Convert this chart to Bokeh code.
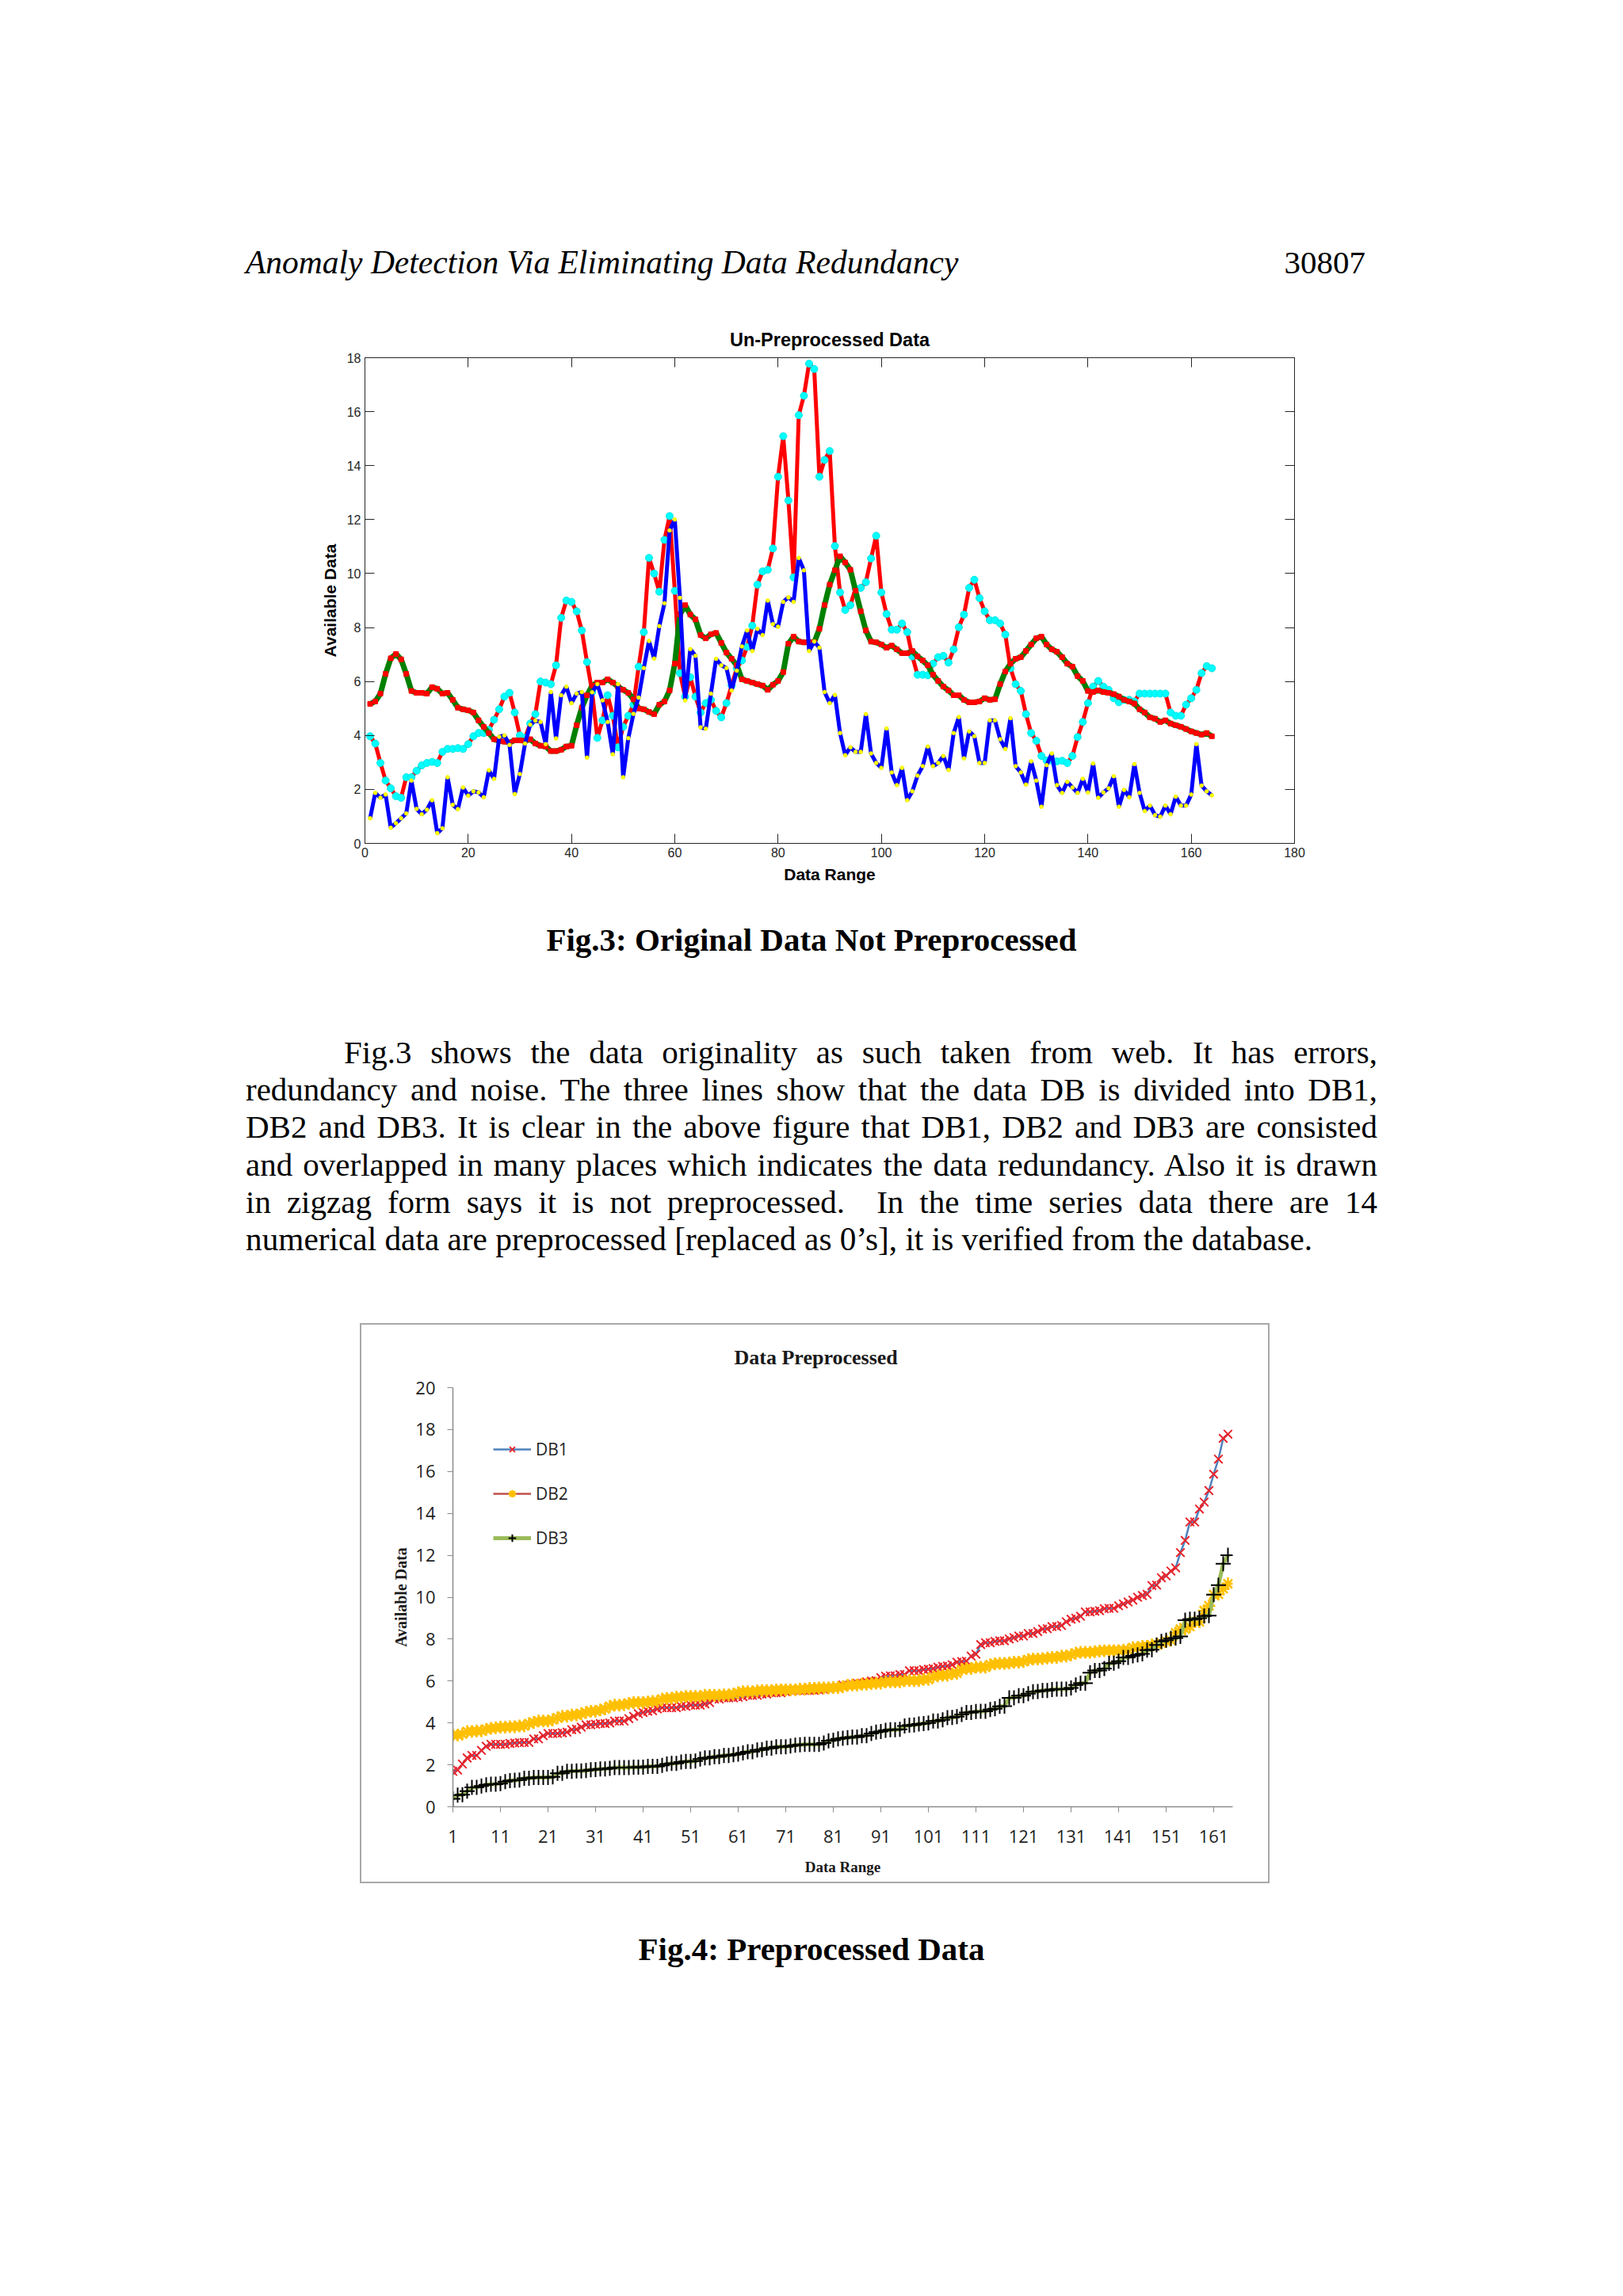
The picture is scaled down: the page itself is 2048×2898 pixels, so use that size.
from bokeh.plotting import figure
from bokeh.models import (LinearAxis, FixedTicker, Div, Spacer, Legend, LegendItem,
                          ColumnDataSource, Title, GridBox)
from bokeh.layouts import column, row
from bokeh.embed import file_html
from bokeh.resources import INLINE

# ---------------- data ----------------
blue_series = [0.93, 1.87, 1.69, 1.81, 0.58, 0.75, 0.93, 1.11, 2.33, 1.28,
               1.08, 1.25, 1.60, 0.38, 0.56, 2.45, 1.43, 1.27, 2.07, 1.77,
               1.93, 1.89, 1.71, 2.71, 2.39, 3.95, 4.00, 3.65, 1.83, 2.57,
               3.70, 4.40, 4.55, 4.50, 3.68, 5.61, 3.89, 5.49, 5.81, 5.20,
               5.55, 5.61, 3.18, 5.60, 5.90, 5.30, 4.50, 3.30, 5.90, 2.45,
               3.90, 4.80, 5.40, 6.50, 7.50, 6.85, 8.05, 8.90, 11.60, 12.00,
               9.10, 5.30, 7.20, 6.95, 4.30, 4.25, 5.55, 6.84, 6.60, 6.50,
               5.67, 6.40, 7.30, 7.89, 7.13, 7.95, 7.72, 9.00, 8.13, 8.03,
               8.95, 9.12, 8.95, 10.58, 10.12, 7.13, 7.48, 7.25, 5.61, 5.20,
               5.50, 4.09, 3.27, 3.56, 3.39, 3.39, 4.79, 3.33, 2.98, 2.80,
               4.26, 2.63, 2.16, 2.80, 1.60, 1.93, 2.51, 2.86, 3.59, 2.86,
               2.98, 3.24, 2.72, 4.09, 4.68, 3.15, 4.15, 3.97, 2.98, 2.98,
               4.56, 4.56, 3.86, 3.50, 4.64, 2.86, 2.63, 2.18, 3.04, 2.33,
               1.36, 2.90, 3.33, 2.16, 1.87, 2.28, 2.07, 1.87, 2.39, 1.89,
               2.96, 1.69, 1.89, 2.04, 2.49, 1.36, 1.98, 1.71, 2.94, 1.87,
               1.20, 1.40, 1.05, 0.99, 1.40, 1.08, 1.73, 1.40, 1.40, 1.81,
               3.68, 2.14, 1.93, 1.78]

red_series = [3.97, 3.70, 2.98, 2.33, 2.04, 1.75, 1.69, 2.45, 2.45, 2.69,
              2.89, 2.98, 3.02, 2.98, 3.39, 3.50, 3.50, 3.53, 3.50, 3.68,
              3.97, 4.09, 4.09, 4.21, 4.58, 4.97, 5.44, 5.58, 4.85, 4.00,
              3.91, 4.44, 4.79, 6.00, 5.96, 5.90, 6.60, 8.36, 9.00, 8.95,
              8.60, 7.89, 6.72, 5.61, 3.91, 4.56, 5.49, 4.73, 3.56, 4.32,
              4.73, 5.14, 6.55, 7.83, 10.58, 10.00, 9.33, 11.25, 12.13, 9.36,
              6.31, 5.44, 6.16, 5.44, 4.85, 5.20, 5.32, 4.91, 4.67, 5.20,
              5.85, 6.49, 6.78, 7.28, 8.07, 9.59, 10.08, 10.14, 10.93, 13.59,
              15.09, 12.71, 9.86, 15.87, 16.59, 17.78, 17.58, 13.59, 14.21, 14.54,
              11.02, 9.30, 8.65, 8.83, 9.45, 9.47, 9.68, 10.56, 11.40, 9.30,
              8.50, 7.92, 7.92, 8.15, 7.83, 6.93, 6.25, 6.25, 6.23, 6.66,
              6.90, 6.95, 6.70, 7.19, 8.01, 8.48, 9.47, 9.77, 9.09, 8.60,
              8.27, 8.27, 8.15, 7.74, 6.49, 5.90, 5.65, 4.79, 4.09, 3.80,
              3.24, 3.07, 3.07, 3.04, 3.06, 2.98, 3.24, 3.94, 4.50, 5.20,
              5.81, 6.02, 5.81, 5.69, 5.38, 5.23, 5.32, 5.32, 5.26, 5.55,
              5.55, 5.55, 5.55, 5.55, 5.55, 4.85, 4.73, 4.73, 5.14, 5.38,
              5.69, 6.31, 6.57, 6.49]

green_series = [5.17, 5.26, 5.55, 6.28, 6.86, 7.02, 6.82, 6.28, 5.65, 5.58,
                5.58, 5.55, 5.79, 5.73, 5.55, 5.58, 5.32, 5.03, 4.97, 4.93,
                4.85, 4.56, 4.32, 4.09, 3.86, 3.80, 3.77, 3.74, 3.82, 3.82,
                3.80, 3.86, 3.70, 3.62, 3.59, 3.42, 3.42, 3.47, 3.59, 3.62,
                4.38, 5.03, 5.49, 5.85, 5.96, 5.96, 6.08, 5.96, 5.81, 5.69,
                5.58, 5.34, 5.00, 4.97, 4.87, 4.79, 5.14, 5.26, 5.67, 6.66,
                8.48, 8.83, 8.48, 8.30, 7.72, 7.60, 7.75, 7.80, 7.43, 7.07,
                6.84, 6.60, 6.08, 6.02, 5.96, 5.90, 5.85, 5.69, 5.88, 6.02,
                6.35, 7.40, 7.66, 7.48, 7.45, 7.45, 7.45, 7.95, 8.83, 9.59,
                10.12, 10.64, 10.41, 10.14, 9.36, 8.60, 7.89, 7.48, 7.45, 7.37,
                7.25, 7.33, 7.19, 7.05, 7.05, 7.13, 6.93, 6.78, 6.60, 6.25,
                6.02, 5.81, 5.67, 5.49, 5.49, 5.32, 5.23, 5.23, 5.26, 5.38,
                5.32, 5.34, 5.90, 6.37, 6.66, 6.84, 6.90, 7.13, 7.37, 7.60,
                7.66, 7.37, 7.19, 7.10, 6.90, 6.66, 6.55, 6.20, 6.02, 5.65,
                5.61, 5.67, 5.61, 5.58, 5.53, 5.44, 5.32, 5.26, 5.18, 4.97,
                4.85, 4.67, 4.62, 4.50, 4.56, 4.44, 4.38, 4.32, 4.24, 4.15,
                4.09, 4.03, 4.09, 3.97]

# Fig.4 shows the same three databases after preprocessing (sorted ascending)
db1_values = sorted(red_series)
db2_values = sorted(green_series)
db3_values = sorted(blue_series)
legend_labels = ["DB1", "DB2", "DB3"]

fig3_xticks = [0, 20, 40, 60, 80, 100, 120, 140, 160, 180]
fig3_yticks = [0, 2, 4, 6, 8, 10, 12, 14, 16, 18]
fig4_xticks = [1, 11, 21, 31, 41, 51, 61, 71, 81, 91, 101, 111, 121, 131, 141, 151, 161]
fig4_yticks = [0, 2, 4, 6, 8, 10, 12, 14, 16, 18, 20]

SERIF = "Liberation Serif"
SANS = "Liberation Sans"

# ---------------- Fig.3 (MATLAB style) ----------------
p1 = figure(frame_width=1173, frame_height=613,
            min_border_left=452, min_border_right=407,
            min_border_top=71, min_border_bottom=76,
            x_range=(0, 180), y_range=(0, 18),
            output_backend="svg", toolbar_location=None)
p1.title = Title(text="Un-Preprocessed Data", align="center", text_font=SANS,
                 text_font_size="23.5px", text_font_style="bold", text_color="#000000",
                 standoff=19)
p1.grid.visible = False
p1.outline_line_color = "#262626"
p1.background_fill_color = "white"
p1.border_fill_color = "white"

for ax in (p1.xaxis[0], p1.yaxis[0]):
    ax.major_tick_in = 12
    ax.major_tick_out = 0
    ax.minor_tick_in = 0
    ax.minor_tick_out = 0
    ax.axis_line_color = "#262626"
    ax.major_tick_line_color = "#262626"
    ax.major_label_text_font = SANS
    ax.major_label_text_font_size = "16px"
    ax.major_label_text_color = "#262626"
    ax.axis_label_text_font = SANS
    ax.axis_label_text_font_size = "21px"
    ax.axis_label_text_font_style = "bold"
    ax.axis_label_text_color = "#000000"
p1.xaxis[0].ticker = FixedTicker(ticks=fig3_xticks)
p1.yaxis[0].ticker = FixedTicker(ticks=fig3_yticks)
p1.xaxis[0].axis_label = "Data Range"
p1.yaxis[0].axis_label = "Available Data"
p1.xaxis[0].major_label_standoff = 5
p1.yaxis[0].major_label_standoff = 5
p1.xaxis[0].axis_label_standoff = 7
p1.yaxis[0].axis_label_standoff = 7

for side, ticks in (("right", fig3_yticks), ("above", fig3_xticks)):
    ax = LinearAxis(ticker=FixedTicker(ticks=ticks), major_tick_in=12, major_tick_out=0,
                    minor_tick_in=0, minor_tick_out=0, major_label_text_font_size="1px",
                    major_label_text_color=None, major_label_standoff=0,
                    axis_line_color="#262626", major_tick_line_color="#262626")
    p1.add_layout(ax, side)

src1 = ColumnDataSource(dict(x=list(range(1, len(blue_series) + 1)),
                             blue=blue_series, red=red_series, green=green_series))
p1.line("x", "red", source=src1, line_color="#FF0000", line_width=5)
p1.scatter("x", "red", source=src1, marker="circle", size=9,
           fill_color="#00FFFF", line_color="#00E5E5", line_width=1)
p1.line("x", "green", source=src1, line_color="#008000", line_width=7)
p1.scatter("x", "green", source=src1, marker="square", size=6,
           fill_color="#FF0000", line_color="#FF0000")
p1.line("x", "blue", source=src1, line_color="#0000FF", line_width=5)
p1.scatter("x", "blue", source=src1, marker="circle", size=5,
           fill_color="#FFFF00", line_color="#E6E600", line_width=0.5)

# ---------------- Fig.4 (Excel style) ----------------
p2 = figure(frame_width=984, frame_height=529,
            min_border_left=117, min_border_right=47,
            min_border_top=81, min_border_bottom=97,
            x_range=(1, 165), y_range=(0, 20),
            output_backend="svg", toolbar_location=None)
p2.title = Title(text="Data Preprocessed", align="left", text_font=SERIF,
                 text_font_size="26px", text_font_style="bold", text_color="#1a1a1a",
                 standoff=48, offset=355)
p2.grid.visible = False
p2.outline_line_color = None
p2.background_fill_color = "white"
p2.border_fill_color = "white"
for ax in (p2.xaxis[0], p2.yaxis[0]):
    ax.major_tick_in = 0
    ax.major_tick_out = 7
    ax.minor_tick_in = 0
    ax.minor_tick_out = 0
    ax.axis_line_color = "#8C8C8C"
    ax.axis_line_width = 1.5
    ax.major_tick_line_color = "#8C8C8C"
    ax.major_label_text_font = "Open Sans"
    ax.major_label_text_font_size = "22px"
    ax.major_label_text_color = "#1f1f1f"
    ax.axis_label_text_font = SERIF
    ax.axis_label_text_font_style = "bold"
    ax.axis_label_text_color = "#1a1a1a"
p2.xaxis[0].ticker = FixedTicker(ticks=fig4_xticks)
p2.yaxis[0].ticker = FixedTicker(ticks=fig4_yticks)
p2.xaxis[0].axis_label = "Data Range"
p2.yaxis[0].axis_label = "Available Data"
p2.xaxis[0].axis_label_text_font_size = "19px"
p2.yaxis[0].axis_label_text_font_size = "20px"
p2.xaxis[0].major_label_standoff = 22
p2.yaxis[0].major_label_standoff = 15
p2.xaxis[0].axis_label_standoff = 17
p2.yaxis[0].axis_label_standoff = 4

src2 = ColumnDataSource(dict(x=list(range(1, len(db1_values) + 1)),
                             db1=db1_values, db2=db2_values, db3=db3_values))
l1 = p2.line("x", "db1", source=src2, line_color="#4F81BD", line_width=2.5)
m1 = p2.scatter("x", "db1", source=src2, marker="x", size=15,
                line_color="#E8242B", line_width=2)
l2 = p2.line("x", "db2", source=src2, line_color="#C0504D", line_width=2.5)
m2 = p2.scatter("x", "db2", source=src2, marker="asterisk", size=16,
                line_color="#FFC000", line_width=2.6)
l3 = p2.line("x", "db3", source=src2, line_color="#9BBB59", line_width=5)
m3 = p2.scatter("x", "db3", source=src2, marker="cross", size=19,
                line_color="#000000", line_width=2)

legend = Legend(items=[LegendItem(label=legend_labels[0], renderers=[l1, m1]),
                       LegendItem(label=legend_labels[1], renderers=[l2, m2]),
                       LegendItem(label=legend_labels[2], renderers=[l3, m3])],
                location=(51, 325), padding=0, margin=0, border_line_color=None,
                background_fill_alpha=0, glyph_width=48, glyph_height=24,
                label_height=24, spacing=28, label_standoff=6,
                label_text_font="Open Sans", label_text_font_size="21px",
                label_text_color="#1f1f1f")
p2.add_layout(legend)

# grey chart-area border drawn on top of the figure (same grid cell)
chart_border = Div(text=('<div style="box-sizing:border-box;width:1148px;height:707px;'
                         'border:2px solid #A8A8A8;"></div>'),
                   width=1148, height=707, margin=(0, 0, 0, 0))
fig4_box = GridBox(children=[(p2, 0, 0), (chart_border, 0, 0)], spacing=0)

# ---------------- page text ----------------
def block(h, items):
    inner = "".join(items)
    html = (f'<div style="position:relative;width:2032px;height:{h}px;'
            f'font-family:\'{SERIF}\',\'Times New Roman\',serif;color:#000;">{inner}</div>')
    return Div(text=html, width=2032, height=h, margin=(0, 0, 0, 0))

def line_div(left, top, txt, width=None, style="", justify=False, align=None):
    st = f"position:absolute;left:{left}px;top:{top}px;font-size:41px;line-height:47px;white-space:nowrap;{style}"
    if width is not None:
        st += f"width:{width}px;"
    if justify:
        st += "text-align:justify;text-align-last:justify;"
    if align:
        st += f"text-align:{align};"
    return f'<div style="{st}">{txt}</div>'

header = block(372, [
    line_div(302, 300, "Anomaly Detection Via Eliminating Data Redundancy",
             style="font-style:italic;font-size:41.5px;"),
    '<div style="position:absolute;right:317px;top:300px;font-size:41px;line-height:47px;">30807</div>',
])

para_lines = [
    "Fig.3 shows the data originality as such taken from web. It has errors,",
    "redundancy and noise. The three lines show that the data DB is divided into DB1,",
    "DB2 and DB3. It is clear in the above figure that DB1, DB2 and DB3 are consisted",
    "and overlapped in many places which indicates the data redundancy. Also it is drawn",
    "in zigzag form says it is not preprocessed.&nbsp; In the time series data there are 14",
    "numerical data are preprocessed [replaced as 0’s], it is verified from the database.",
]
para_tops = [165, 212, 259, 307, 354, 401]
mid_items = [line_div(0, 23, "Fig.3: Original Data Not Preprocessed", width=2032,
                      style="font-weight:bold;", align="center")]
for k, (t, top) in enumerate(zip(para_lines, para_tops)):
    if k == 0:
        mid_items.append(line_div(426, top, t, width=1304, justify=True))
    elif k < len(para_lines) - 1:
        mid_items.append(line_div(302, top, t, width=1428, justify=True))
    else:
        mid_items.append(line_div(302, top, t, style="font-size:41.3px;"))
middle = block(530, mid_items)

bottom = block(513, [line_div(0, 60, "Fig.4: Preprocessed Data", width=2032,
                              style="font-weight:bold;", align="center")])

fig4_row = row(Spacer(width=446, height=707, margin=(0, 0, 0, 0)), fig4_box, spacing=0)

page = column(header, p1, middle, fig4_row, bottom, spacing=0, margin=(8, 0, 0, 8))

open("out.html", "w").write(file_html(page, INLINE, title="Anomaly Detection Via Eliminating Data Redundancy"))
